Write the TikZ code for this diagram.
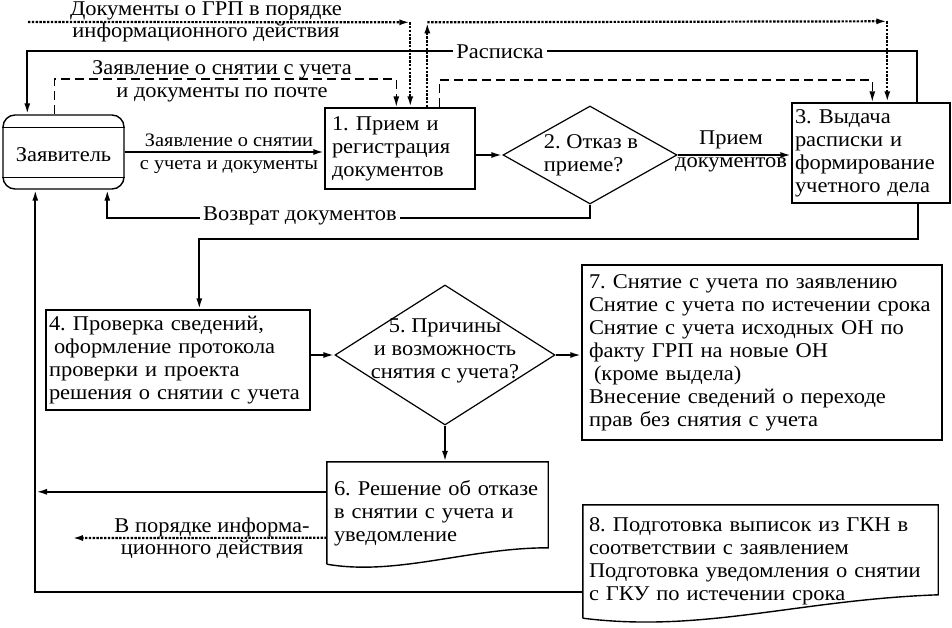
\documentclass[tikz,border=0pt]{standalone}
\usepackage{fontspec}
\setmainfont[FakeStretch=1.07]{Liberation Serif}
\usetikzlibrary{arrows.meta,shapes.geometric,calc}
\frenchspacing
\begin{document}
\begin{tikzpicture}[x=1pt,y=-1pt,
  every node/.style={font=\fontsize{21}{23}\selectfont},
  box/.style={draw,line width=1.4pt,rectangle,inner sep=0pt,align=left},
  dia/.style={draw,line width=1.2pt,diamond,inner sep=0pt},
  conn/.style={line width=2pt,-{Latex[length=11pt,width=6pt]}},
  dashc/.style={line width=1.6pt,dash pattern=on 9pt off 5pt,-{Latex[length=11pt,width=6pt]}},
  dotc/.style={line width=2.2pt,dash pattern=on 2.4pt off 1.4pt,-{Latex[length=11pt,width=6pt]}},
  lbl/.style={inner sep=1pt,align=center},
  wlbl/.style={inner sep=3pt,fill=white}
]
\useasboundingbox (0,0) rectangle (952,628);
\fill[white] (0,0) rectangle (952,628);

% Заявитель
\node[draw,line width=1.4pt,rectangle,rounded corners=12pt,minimum width=121pt,minimum height=74pt,inner sep=0pt] (z) at (63.5,152) {};
\node (zt) at (63.5,155) {Заявитель};
\draw[line width=1.4pt] ($(z.north west)+(0,13)$) -- ($(z.north east)+(0,13)$);
\draw[line width=1.4pt] ($(z.south west)+(0,-12)$) -- ($(z.south east)+(0,-12)$);

% boxes
\node[box,minimum width=150pt,minimum height=81pt,text width=136pt] (b1) at (400,148.5) {1. Прием и\\регистрация\\документов};
\node[dia,minimum width=174pt,minimum height=98pt] (d2) at (590,155) {};
\node[align=left,inner sep=0pt] (t2) at (591,155) {2. Отказ в\\приеме?};
\node[box,minimum width=158pt,minimum height=100pt,text width=152pt] (b3) at (871,153) {3. Выдача\\расписки и\\формирование\\учетного дела};
\node[box,minimum width=264pt,minimum height=100pt,text width=258pt] (b4) at (178,360) {4. Проверка сведений,\\\hspace*{5pt}оформление протокола\\проверки и проекта\\решения о снятии с учета};
\node[dia,minimum width=220pt,minimum height=140pt] (d5) at (445,355) {};
\node[align=center,inner sep=0pt] (t5) at (445,351) {5. Причины\\и возможность\\снятия с учета?};
\node[box,minimum width=360pt,minimum height=175pt,text width=346pt] (b7) at (762,352.5) {7. Снятие с учета по заявлению\\Снятие с учета по истечении срока\\Снятие с учета исходных ОН по\\факту ГРП на новые ОН\\\hspace*{5pt}(кроме выдела)\\Внесение сведений о переходе\\прав без снятия с учета};

% document shapes
\node[inner sep=0pt,align=left,minimum width=221pt,minimum height=102pt,text width=207pt] (b6) at (437.5,513) {6. Решение об отказе\\в снятии с учета и\\уведомление};
\draw[line width=1.4pt] (b6.south west) -- (b6.north west) -- (b6.north east) -- ($(b6.north east)+(0,86)$)
  .. controls ($(b6.north east)+(-80,86)$) and ($(b6.south west)+(70,12)$) .. (b6.south west);
\node[inner sep=0pt,align=left,minimum width=355pt,minimum height=113pt,text width=343pt] (b8) at (760.5,561.5) {8. Подготовка выписок из ГКН в\\соответствии с заявлением\\Подготовка уведомления о снятии\\с ГКУ по истечении срока};
\draw[line width=1.4pt] (b8.south west) -- (b8.north west) -- (b8.north east) -- ($(b8.north east)+(0,90)$)
  .. controls ($(b8.north east)+(-140,95)$) and ($(b8.south west)+(120,15)$) .. (b8.south west);

% main flow
\draw[conn] (z.east) -- (z.east -| b1.west);
\node[lbl,font=\fontsize{19}{23}\selectfont] (l1) at (229,154) {Заявление о снятии\\с учета и документы};
\draw[conn] (b1.east |- d2.west) -- (d2.west);
\draw[conn] (d2.east) -- (d2.east -| b3.west);
\node[lbl] (l2) at (731,151) {Прием\\документов};
\draw[conn] (d2.south) -- ++(0,13) -| ($(z.south west)+(105,0)$);
\node[wlbl] (l3) at (300,216) {Возврат документов};
\draw[conn] ($(b3.south west)+(127,0)$) -- ++(0,35) -| ($(b4.north west)+(154,0)$);
\draw[conn] (d5.west -| b4.east) -- (d5.west);
\draw[conn] (d5.east) -- (d5.east -| b7.west);
\draw[conn] (d5.south) -- (d5.south |- b6.north);
\coordinate (lb) at (36,592);
\coordinate (b6l) at ($(b6.north west)+(0,30)$);
\draw[conn] (b6l) -- (b6l -| lb);
\draw[conn] ($(b8.west)+(0,30.5)$) -| ($(z.south west)+(33,0)$);
\coordinate (inf) at (72,538);
\draw[dotc] ($(b6.north west)+(0,76)$) -- (inf);
\node[lbl,font=\fontsize{21}{22}\selectfont] (l4) at (212,538) {В порядке информа-\\ционного действия};

% top connectors
\draw[conn] ($(b3.north west)+(126,0)$) -- ++(0,-51) -| ($(z.north west)+(25,0)$);
\node[wlbl] (l5) at (500,52) {Расписка};
\draw[dashc] ($(z.north west)+(52,0)$) -- ++(0,-35) -| ($(b1.north west)+(72,0)$);
\node[lbl] (l6) at (222,81) {Заявление о снятии с учета\\и документы по почте};
\draw[dashc] ($(b1.north west)+(115,0)$) -- ++(0,-27) -| ($(b3.north west)+(81,0)$);
\coordinate (src) at (28,22);
\coordinate (c1) at ($(b1.north west)+(86,-85)$);
\draw[dotc] (src) -- (c1);
\draw[dotc] (c1) -- (c1 |- b1.north);
\node[lbl,font=\fontsize{21}{22}\selectfont] (l7) at (206,22) {Документы о ГРП в порядке\\информационного действия};
\coordinate (c2) at ($(b1.north west)+(103,-85)$);
\coordinate (c3) at ($(b3.north west)+(96,-81)$);
\draw[dotc] (c2 |- b1.north) -- (c2);
\draw[dotc] (c2) -- (c3);
\draw[dotc] (c3) -- (c3 |- b3.north);
\end{tikzpicture}
\end{document}
